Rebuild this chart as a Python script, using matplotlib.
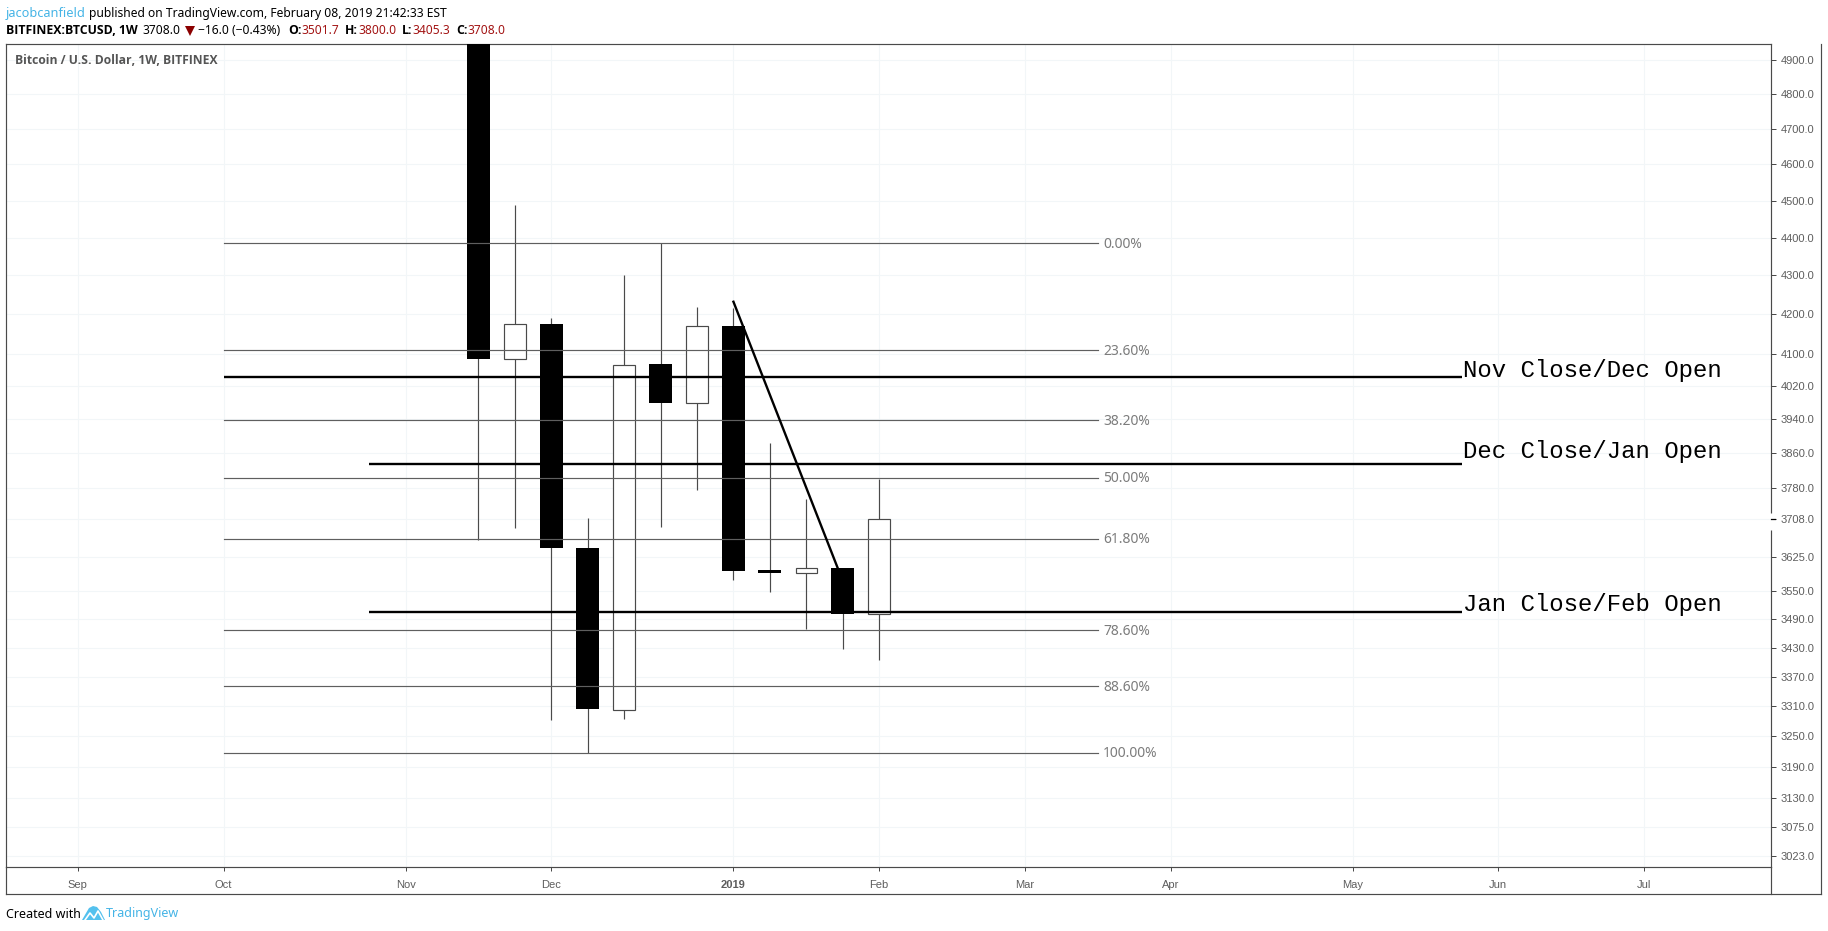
import matplotlib
matplotlib.use('Agg')
import matplotlib.pyplot as plt
import matplotlib.dates as mdates
import matplotlib.transforms as mtrans
from matplotlib.patches import Polygon
import pandas as pd

# weekly candles
datas = ['2018-11-19', '2018-11-26', '2018-12-03', '2018-12-10', '2018-12-17', '2018-12-24',
         '2018-12-31', '2019-01-07', '2019-01-14', '2019-01-21', '2019-01-28', '2019-02-04']
abertura = [5560, 4087, 4176, 3645, 3303, 4076, 3980, 4171, 3595, 3589, 3601, 3501.7]
maximo = [5650, 4489, 4190, 3712, 4302, 4385, 4219, 4216, 3885, 3753, 3601, 3800.0]
minimo = [3662, 3688, 3283, 3218, 3285, 3690, 3774, 3574, 3548, 3468, 3427, 3405.3]
fechamento = [4088, 4175, 3644, 3304, 4072, 3979, 4170, 3593, 3588, 3601, 3501, 3708.0]

# fibonacci
fib_labels = ['0.00%', '23.60%', '38.20%', '50.00%', '61.80%', '78.60%', '88.60%', '100.00%']
fib_precos = [4385, 4110, 3939, 3803, 3665, 3467, 3351, 3218]
fib_inicio = '2018-10-01'
fib_fim = '2019-03-18'

# linhas desenhadas a mao
nivel_labels = ['Nov Close/Dec Open', 'Dec Close/Jan Open', 'Jan Close/Feb Open']
nivel_precos = [4044, 3835, 3505]
nivel_texto_precos = [4043, 3849, 3508]
nivel_inicio = ['2018-10-01', '2018-10-29', '2018-10-29']
nivel_fim = '2019-05-27'

tend_datas = ['2019-01-07', '2019-01-27']
tend_precos = [4232, 3601]

y_ticks = [4900, 4800, 4700, 4600, 4500, 4400, 4300, 4200, 4100, 4020, 3940, 3860, 3780,
           3625, 3550, 3490, 3430, 3370, 3310, 3250, 3190, 3130, 3075, 3023]
x_ticks = ['2018-09-03', '2018-10-01', '2018-11-05', '2018-12-03', '2019-01-07', '2019-02-04',
           '2019-03-04', '2019-04-01', '2019-05-06', '2019-06-03', '2019-07-01']
x_labels = ['Sep', 'Oct', 'Nov', 'Dec', '2019', 'Feb', 'Mar', 'Apr', 'May', 'Jun', 'Jul']
ultimo_preco = 3708

W, H = 1828, 931
COR_BORDA = '#4a4a4a'
COR_TEXTO = '#5d5d5d'
COR_GRID = '#f2f6f8'
COR_RED = '#a31515'
COR_AZUL = '#45b4e6'


def num(d):
    return mdates.date2num(pd.to_datetime(d))


def fx(x):
    return x / W


def fy(y):
    return 1 - y / H


fig = plt.figure(figsize=(W / 100, H / 100), dpi=100)
ax = fig.add_axes([fx(6), fy(867), fx(1771 - 6), (867 - 44) / H])
ax.set_yscale('log')
ax.set_xlim(num('2019-02-04') - 167.8, num('2019-02-04') + 171.4)
ax.set_ylim(3002, 4949.3)

# grade
ax.set_yticks(y_ticks + [ultimo_preco])
ax.set_yticklabels([f'{v:.1f}' for v in y_ticks] + [f'{ultimo_preco:.1f}'],
                   family='Liberation Sans', fontsize=8, color=COR_TEXTO)
ax.minorticks_off()
ax.set_xticks([num(d) for d in x_ticks])
ax.set_xticklabels(x_labels, family='Liberation Sans', fontsize=8, color=COR_TEXTO)
for lbl in ax.get_xticklabels():
    if lbl.get_text() == '2019':
        lbl.set_fontweight('bold')
ax.yaxis.tick_right()
ax.tick_params(axis='y', length=3.5, width=0.72, color=COR_BORDA, pad=3.5)
ax.tick_params(axis='x', length=3, width=0.72, color=COR_BORDA, pad=6)
ax.grid(True, color=COR_GRID, lw=0.8)
ax.set_axisbelow(True)
for s in ax.spines.values():
    s.set_color(COR_BORDA)
    s.set_linewidth(0.85)

# candles
x_candle = [num(d) for d in datas]
ax.vlines(x_candle, minimo, maximo, color=COR_BORDA, lw=0.85, zorder=2)
for x, o, c in zip(x_candle, abertura, fechamento):
    baixo = min(o, c)
    alto = max(o, c)
    if c < o:
        ax.bar(x, alto - baixo, bottom=baixo, width=4.4, color='black', edgecolor='black', lw=0, zorder=3)
    else:
        ax.bar(x, alto - baixo, bottom=baixo, width=4.1, color='white', edgecolor=COR_BORDA, lw=0.85, zorder=3)

# fibonacci
for lab, p in zip(fib_labels, fib_precos):
    ax.plot([num(fib_inicio), num(fib_fim)], [p, p], color='#5f5f5f', lw=0.85, zorder=4)
    ax.text(num(fib_fim) + 1, p * 0.9992, lab, color='#7c7c7c', fontsize=10, family='Noto Sans',
            va='center', zorder=6)

# linhas horizontais e tendencia
for ini, p in zip(nivel_inicio, nivel_precos):
    ax.plot([num(ini), num(nivel_fim)], [p, p], color='black', lw=1.7, solid_capstyle='butt', zorder=5)
for lab, p in zip(nivel_labels, nivel_texto_precos):
    ax.text(num(nivel_fim) + 0.2, p, lab, color='black', fontsize=17.3, family='Liberation Mono',
            va='baseline', ha='left', zorder=6)
ax.plot([num(d) for d in tend_datas], tend_precos, color='black', lw=1.7, zorder=5)

# ultimo preco: abre o eixo
trans = mtrans.blended_transform_factory(ax.transAxes, ax.transData)
ax.plot([1, 1], [3683, 3722], transform=trans, color='white', lw=2.5, clip_on=False, zorder=7,
        solid_capstyle='butt')
ax.plot([1, 1.0023], [ultimo_preco, ultimo_preco], transform=trans, color='black', lw=0.9,
        clip_on=False, zorder=8)

# moldura externa
for xs, ys in [([6, 1821], [894, 894]), ([1821, 1821], [44, 894]), ([6, 6], [867, 894]), ([1771, 1771], [867, 894])]:
    fig.add_artist(plt.Line2D([fx(v) for v in xs], [fy(v) for v in ys], color=COR_BORDA, lw=0.85))


# cabecalho
def texto(x, y, s, cor='black', peso='normal', tam=8.7, fam='Noto Sans'):
    fig.text(fx(x), fy(y), s, color=cor, fontweight=peso, fontsize=tam, family=fam, va='center', ha='left')


texto(6, 13, 'jacobcanfield', COR_AZUL, tam=9.2)
texto(89, 13, 'published on TradingView.com, February 08, 2019 21:42:33 EST')
texto(6, 31, 'BITFINEX:BTCUSD, 1W', peso='bold', tam=8.8, fam='Open Sans')
texto(142, 31, '3708.0')
texto(198, 31, '\u221216.0 (\u22120.43%)')
fig.add_artist(Polygon([[fx(185), fy(26)], [fx(195), fy(26)], [fx(190), fy(36)]], closed=True,
                       transform=fig.transFigure, color='#8b0000', lw=0))
for x_l, l, x_v, v in [(288, 'O:', 301, '3501.7'), (345, 'H:', 358, '3800.0'),
                       (402, 'L:', 412, '3405.3'), (456, 'C:', 467, '3708.0')]:
    texto(x_l, 31, l, peso='bold', tam=8.8, fam='Open Sans')
    texto(x_v, 31, v, COR_RED)
texto(15, 60, 'Bitcoin / U.S. Dollar, 1W, BITFINEX', '#555555', 'bold', 8.75, 'Open Sans')

# rodape
texto(6, 914, 'Created with', 'black', tam=9)
logo = [(82, 920), (89, 908), (93, 906), (97, 907), (101, 912), (105, 920)]
fig.add_artist(Polygon([[fx(a), fy(b)] for a, b in logo], closed=True, transform=fig.transFigure,
                       color='#54c1ee', lw=0))
risco = [(85, 920), (90, 913), (94, 918), (98, 911), (103, 920)]
fig.add_artist(plt.Line2D([fx(a) for a, b in risco], [fy(b) for a, b in risco], color='white', lw=1.2))
texto(106, 914, 'TradingView', COR_AZUL, tam=9)

fig.savefig('out.png', dpi=100)
plt.close()
